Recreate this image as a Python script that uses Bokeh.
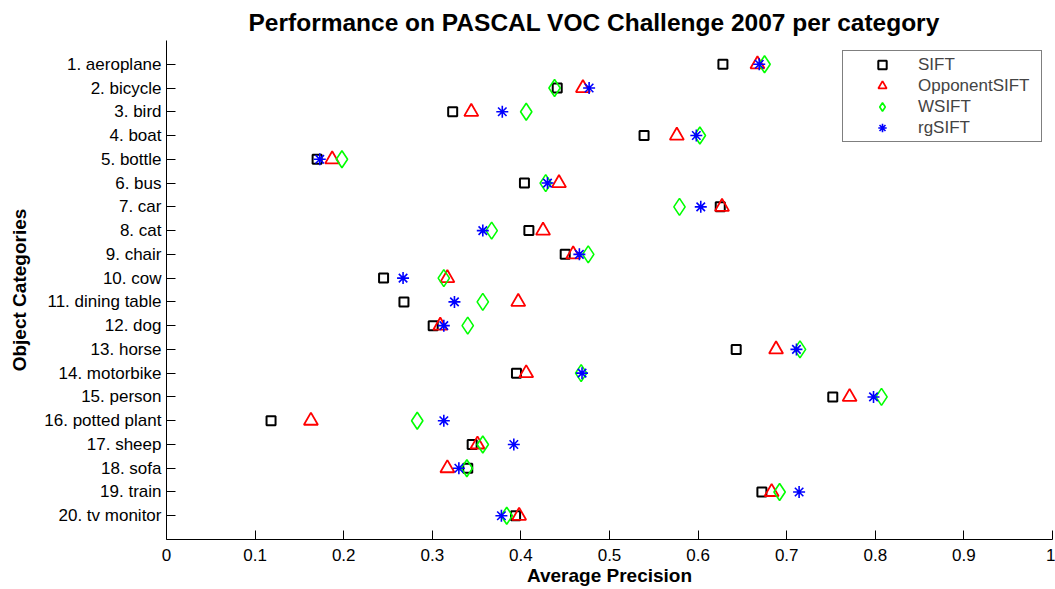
from bokeh.plotting import figure
from bokeh.models import Range1d, FixedTicker
from bokeh.embed import file_html
from bokeh.resources import INLINE

categories = ["1. aeroplane", "2. bicycle", "3. bird", "4. boat", "5. bottle",
              "6. bus", "7. car", "8. cat", "9. chair", "10. cow",
              "11. dining table", "12. dog", "13. horse", "14. motorbike",
              "15. person", "16. potted plant", "17. sheep", "18. sofa",
              "19. train", "20. tv monitor"]

sift = [0.628, 0.441, 0.323, 0.539, 0.170, 0.404, 0.625, 0.409, 0.450, 0.245,
        0.268, 0.301, 0.643, 0.395, 0.752, 0.118, 0.345, 0.340, 0.672, 0.394]
opponent_sift = [0.667, 0.470, 0.344, 0.576, 0.187, 0.443, 0.627, 0.425, 0.459, 0.317,
                 0.397, 0.309, 0.688, 0.406, 0.771, 0.163, 0.351, 0.317, 0.683, 0.398]
wsift = [0.675, 0.438, 0.406, 0.602, 0.198, 0.428, 0.579, 0.367, 0.476, 0.313,
         0.357, 0.340, 0.715, 0.468, 0.807, 0.283, 0.357, 0.339, 0.692, 0.384]
rgsift = [0.669, 0.477, 0.379, 0.598, 0.173, 0.430, 0.603, 0.357, 0.466, 0.267,
          0.325, 0.313, 0.711, 0.469, 0.798, 0.313, 0.392, 0.330, 0.714, 0.378]

x_ticks = [0, 0.1, 0.2, 0.3, 0.4, 0.5, 0.6, 0.7, 0.8, 0.9, 1]
x_tick_labels = ["0", "0.1", "0.2", "0.3", "0.4", "0.5", "0.6", "0.7", "0.8", "0.9", "1"]

positions = list(range(1, len(categories) + 1))

FONT = "Liberation Sans"

p = figure(width=1055, height=589, output_backend="svg", toolbar_location=None,
           x_range=Range1d(0, 1), y_range=Range1d(21, 0),
           min_border_left=166, min_border_right=3, min_border_top=40,
           min_border_bottom=50,
           title="Performance on PASCAL VOC Challenge 2007 per category")

p.outline_line_color = None
p.xgrid.visible = False
p.ygrid.visible = False
p.background_fill_color = "white"
p.border_fill_color = "white"

p.title.text_font = FONT
p.title.text_font_size = "24.5px"
p.title.text_font_style = "bold"
p.title.text_color = "black"
p.title.align = "left"
p.title.offset = 82
p.title.vertical_align = "top"
p.title.standoff = 6

for ax in (p.xaxis[0], p.yaxis[0]):
    ax.axis_line_color = "black"
    ax.axis_line_width = 1
    ax.major_tick_line_color = "black"
    ax.major_tick_in = 9
    ax.major_tick_out = 0
    ax.minor_tick_line_color = None
    ax.major_label_text_font = FONT
    ax.major_label_text_font_size = "17px"
    ax.major_label_text_color = "black"
    ax.axis_label_text_font = FONT
    ax.axis_label_text_font_size = "19px"
    ax.axis_label_text_font_style = "bold"
    ax.axis_label_text_color = "black"

p.xaxis.ticker = FixedTicker(ticks=x_ticks)
p.xaxis.major_label_overrides = {t: l for t, l in zip(x_ticks, x_tick_labels)}
p.xaxis.axis_label = "Average Precision"
p.xaxis.major_label_standoff = 9
p.xaxis.axis_label_standoff = 1

p.yaxis.ticker = FixedTicker(ticks=positions)
p.yaxis.major_label_overrides = {i: c for i, c in zip(positions, categories)}
p.yaxis.axis_label = "Object Categories"
p.yaxis.major_label_standoff = 5
p.yaxis.axis_label_standoff = 11

p.scatter(sift, positions, marker="square", size=9, fill_color=None,
          line_color="black", line_width=2, legend_label="SIFT")
p.scatter(opponent_sift, positions, marker="triangle", size=14, fill_color=None,
          line_color="#ff0000", line_width=1.8, legend_label="OpponentSIFT")
p.scatter(wsift, positions, marker="diamond", size=17, fill_color=None,
          line_color="#00ff00", line_width=1.6, legend_label="WSIFT")
p.scatter(rgsift, positions, marker="asterisk", size=12,
          line_color="#0000ff", line_width=1.6, legend_label="rgSIFT")

lg = p.legend[0]
lg.location = "top_right"
lg.margin = 10
lg.padding = 3
lg.spacing = 0
lg.glyph_width = 72
lg.glyph_height = 21
lg.label_height = 21
lg.label_width = 120
lg.label_standoff = 0
lg.label_text_font = FONT
lg.label_text_font_size = "17px"
lg.border_line_color = "black"
lg.border_line_width = 1
lg.background_fill_color = "white"
lg.background_fill_alpha = 1

open("out.html", "w").write(file_html(p, INLINE))
